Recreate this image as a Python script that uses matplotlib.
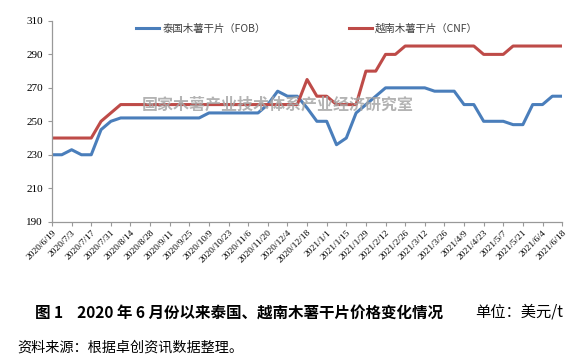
import numpy as np
from matplotlib import pyplot as plt

# weekly prices, 2020/6/19 .. 2021/6/18 (USD/t)
thai_fob = [230, 230, 233, 230, 230, 245, 250, 252, 252, 252,
            252, 252, 252, 252, 252, 252, 255, 255, 255, 255,
            255, 255, 260, 268, 265, 265, 258, 250, 250, 236,
            240, 255, 260, 265, 270, 270, 270, 270, 270, 268,
            268, 268, 260, 260, 250, 250, 250, 248, 248, 260,
            260, 265, 265]
viet_cnf = [240, 240, 240, 240, 240, 250, 255, 260, 260, 260,
            260, 260, 260, 260, 260, 260, 260, 260, 260, 260,
            260, 260, 260, 260, 260, 260, 275, 265, 265, 260,
            260, 260, 280, 280, 290, 290, 295, 295, 295, 295,
            295, 295, 295, 295, 290, 290, 290, 295, 295, 295,
            295, 295, 295]
tick_labels = ["2020/6/19", "2020/7/3", "2020/7/17", "2020/7/31", "2020/8/14",
               "2020/8/28", "2020/9/11", "2020/9/25", "2020/10/9", "2020/10/23",
               "2020/11/6", "2020/11/20", "2020/12/4", "2020/12/18", "2021/1/1",
               "2021/1/15", "2021/1/29", "2021/2/12", "2021/2/26", "2021/3/12",
               "2021/3/26", "2021/4/9", "2021/4/23", "2021/5/7", "2021/5/21",
               "2021/6/4", "2021/6/18"]
y_ticks = [190, 210, 230, 250, 270, 290, 310]

cjk = ['Noto Sans CJK SC', 'DejaVu Sans']
serif = ['Liberation Serif', 'DejaVu Serif']

fig = plt.figure(figsize=(5.85, 3.61), dpi=100)
ax = fig.add_axes([0.0889, 0.386, 0.872, 0.556])

x = np.arange(len(thai_fob))
ax.plot(x, thai_fob, color='#4a7ebb', lw=2.2, label='泰国木薯干片（FOB）', solid_joinstyle='round')
ax.plot(x, viet_cnf, color='#be4b48', lw=2.2, label='越南木薯干片（CNF）', solid_joinstyle='round')

ax.set_xlim(0, len(thai_fob) - 1)
ax.set_ylim(190, 310)
ax.set_yticks(y_ticks)
ax.set_yticklabels([str(v) for v in y_ticks], fontfamily=serif, fontsize=8)
ax.set_xticks(np.arange(0, len(thai_fob), 2))
ax.set_xticklabels(tick_labels, rotation=45, ha='right', rotation_mode='anchor',
                   fontfamily=serif, fontsize=6.8)
ax.tick_params(axis='both', direction='out', length=3, color='#999999', width=0.8)
ax.tick_params(axis='x', pad=2)
for s in ['top', 'right']:
    ax.spines[s].set_visible(False)
for s in ['left', 'bottom']:
    ax.spines[s].set_color('#999999')
    ax.spines[s].set_linewidth(0.9)

leg = ax.legend(ncol=2, loc='center', bbox_to_anchor=(0.5, 1 - 8 / 201), frameon=False,
                prop={'family': cjk, 'size': 7.5}, handlelength=2.2, columnspacing=8,
                handletextpad=0.3)
for t in leg.get_texts():
    t.set_color('#404040')

# watermark
fig.text(0.475, 0.71, '国家木薯产业技术体系产业经济研究室', fontfamily=cjk, fontsize=11.5,
         fontweight='bold', color='#a6a6a6', alpha=0.85, ha='center', va='center')

fig.text(0.06, 0.135, '图 1    2020 年 6 月份以来泰国、越南木薯干片价格变化情况', fontfamily=cjk,
         fontsize=11.2, fontweight='bold', color='black', va='center')
fig.text(0.812, 0.135, '单位：美元/t', fontfamily=cjk, fontsize=11, color='black', va='center')
fig.text(0.029, 0.038, '资料来源：根据卓创资讯数据整理。', fontfamily=cjk, fontsize=10.2,
         color='black', va='center')

fig.savefig('out.png', dpi=100)
